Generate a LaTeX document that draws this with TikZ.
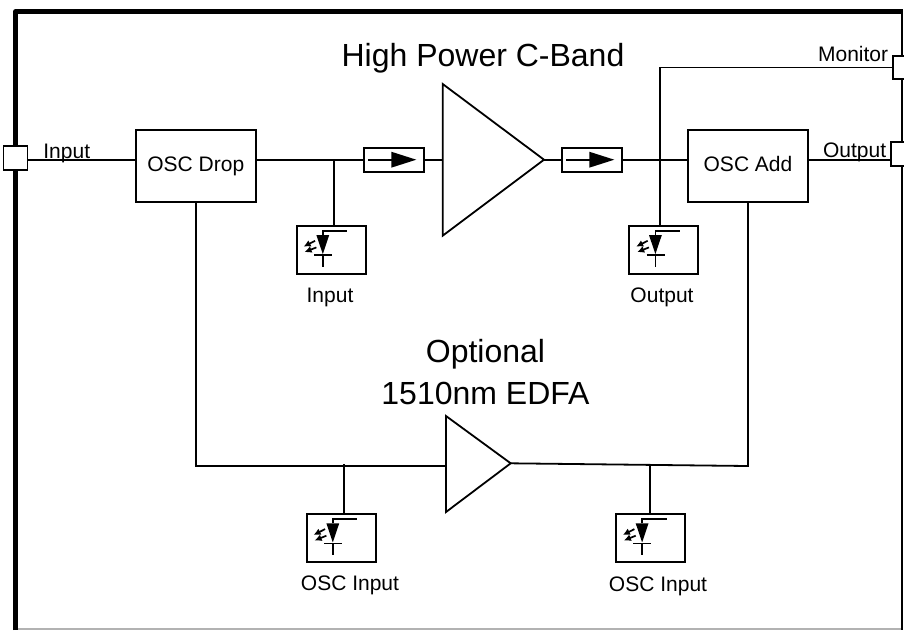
\documentclass[tikz,border=0pt]{standalone}
\usepackage{fontspec}
\setmainfont{Liberation Sans}
\usetikzlibrary{arrows.meta}
\newcommand{\detsym}[1]{%
  \begin{scope}[shift={(#1)}]
    \fill (20.6,10) -- (33.4,10) -- (27,29) -- cycle;
    \draw (27,10) -- (27,5.7) -- (51.5,5.7);
    \draw (18.3,30) -- (36.3,30);
    \draw (27,30) -- (27,42);
    \draw[line width=1.7pt,-{Latex[length=7pt,width=7pt]}] (19.3,15.7) -- (7.8,21.5);
    \draw[line width=1.7pt,-{Latex[length=7pt,width=7pt]}] (20.6,22.3) -- (8.8,27);
  \end{scope}}
\newcommand{\isosym}[1]{%
  \begin{scope}[shift={(#1)}]
    \draw (5.6,0) -- (29,0);
    \fill (28.4,-8) -- (28.4,8) -- (53.4,0) -- cycle;
  \end{scope}}
\tikzset{
  every path/.style={line width=1.8pt},
  ln/.style={draw=black,line width=1.8pt},
  frameline/.style={draw=black,line width=5.2pt,line join=round},
  blockbox/.style={draw,line width=1.8pt,fill=white,minimum width=120pt,minimum height=72pt,inner sep=0pt,font=\fontsize{21}{25}\selectfont,text height=15pt,text depth=4pt},
  detbox/.style={draw,line width=1.8pt,fill=white,minimum width=69pt,minimum height=48pt,inner sep=0pt},
  isobox/.style={draw,line width=1.8pt,fill=white,minimum width=60.5pt,minimum height=24pt,inner sep=0pt},
  port/.style={draw,line width=1.8pt,fill=white,minimum width=24pt,minimum height=24pt,inner sep=0pt},
  small/.style={font=\fontsize{21}{25}\selectfont,inner sep=0pt},
  big/.style={font=\fontsize{32}{42}\selectfont,inner sep=0pt,align=center},
  tri/.style={draw,line width=1.8pt,line join=miter}
}
\begin{document}
\begin{tikzpicture}[x=1pt,y=-1pt]
\useasboundingbox (0,0) rectangle (904,630);
\fill[white] (0,0) rectangle (904,630);
% frame
\draw[frameline] (15.5,630) -- (15.5,11.8) -- (902,11.8);
\draw[line width=2.8pt] (902,9.2) -- (902,630);
\draw[line width=1.2pt,black!30] (18,629) -- (901,629);
% ports
\node[port] (pin) at (15.5,158) {};
\node[port,minimum width=20pt,minimum height=23pt] (pmon) at (903,67.5) {};
\node[port,minimum width=26pt] (pout) at (904,154) {};
% blocks
\node[blockbox] (drop) at (195.8,165.8) {OSC Drop};
\node[blockbox] (add) at (748,165.8) {OSC Add};
\node[isobox] (iso1) at (394,159.7) {};
\node[isobox] (iso2) at (592,159.7) {};
\isosym{iso1.west}
\isosym{iso2.west}
% amplifiers
\coordinate (a1t) at (442.7,84);
\coordinate (a1b) at (442.7,235.7);
\coordinate (a1o) at (544,159.7);
\coordinate (a1i) at (442.7,159.7);
\coordinate (a2t) at (446,416);
\coordinate (a2b) at (446,512);
\coordinate (a2o) at (510.7,463.3);
\coordinate (a2i) at (446,466);
\draw[tri] (a1t) -- (a1o) -- (a1b) -- cycle;
\draw[tri] (a2t) -- (a2o) -- (a2b) -- cycle;
% detectors
\node[detbox] (d1) at (331.2,250) {};
\node[detbox] (d2) at (663.8,250) {};
\node[detbox] (d3) at (341.2,538.3) {};
\node[detbox] (d4) at (650.5,538.3) {};
\detsym{d1.north west}
\detsym{d2.north west}
\detsym{d3.north west}
\detsym{d4.north west}
% connector ends
\coordinate (j1) at (333.7,159.7);
\coordinate (j1b) at (333.7,226);
\coordinate (j2t) at (660,67.5);
\coordinate (j2b) at (660,226);
\coordinate (j3) at (343.7,464);
\coordinate (j3b) at (343.7,514);
\coordinate (j4) at (650,464);
\coordinate (j4b) at (650,514);
\coordinate (c1) at (196,201.8);
\coordinate (c2) at (196,466);
\coordinate (c3) at (748,466);
\coordinate (c4) at (748,201.8);
% connectors
\draw[ln] (pin.east |- 0,160) -- (drop.west |- 0,160);
\draw[ln] (drop.east |- iso1.west) -- (iso1.west);
\draw[ln] (iso1.east) -- (a1i);
\draw[ln] (a1o) -- (iso2.west);
\draw[ln] (iso2.east) -- (add.west |- iso2.east);
\draw[ln] (add.east |- 0,160) -- (pout.west |- 0,160);
\draw[ln] (j1) -- (j1b);
\draw[ln] (j2b) -- (j2t) -- (pmon.west);
\draw[ln] (c1) -- (c2) -- (a2i);
\draw[ln] (a2o) -- (c3) -- (c4);
\draw[ln] (j3) -- (j3b);
\draw[ln] (j4) -- (j4b);
% labels
\node[small,anchor=base west] (t1) at (42.5,158) {Input};
\node[small,anchor=base east] (t2) at (889,61.7) {Monitor};
\node[small,anchor=base east] (t3) at (887,157) {Output};
\node[small] (t4) at (330,297) {Input};
\node[small] (t5) at (662,297) {Output};
\node[small] (t6) at (350,585.5) {OSC Input};
\node[small] (t7) at (658,586.5) {OSC Input};
\node[big] (t8) at (483,58) {High Power C-Band};
\node[big] (t9) at (485.5,372) {Optional\\1510nm EDFA};
\end{tikzpicture}
\end{document}
